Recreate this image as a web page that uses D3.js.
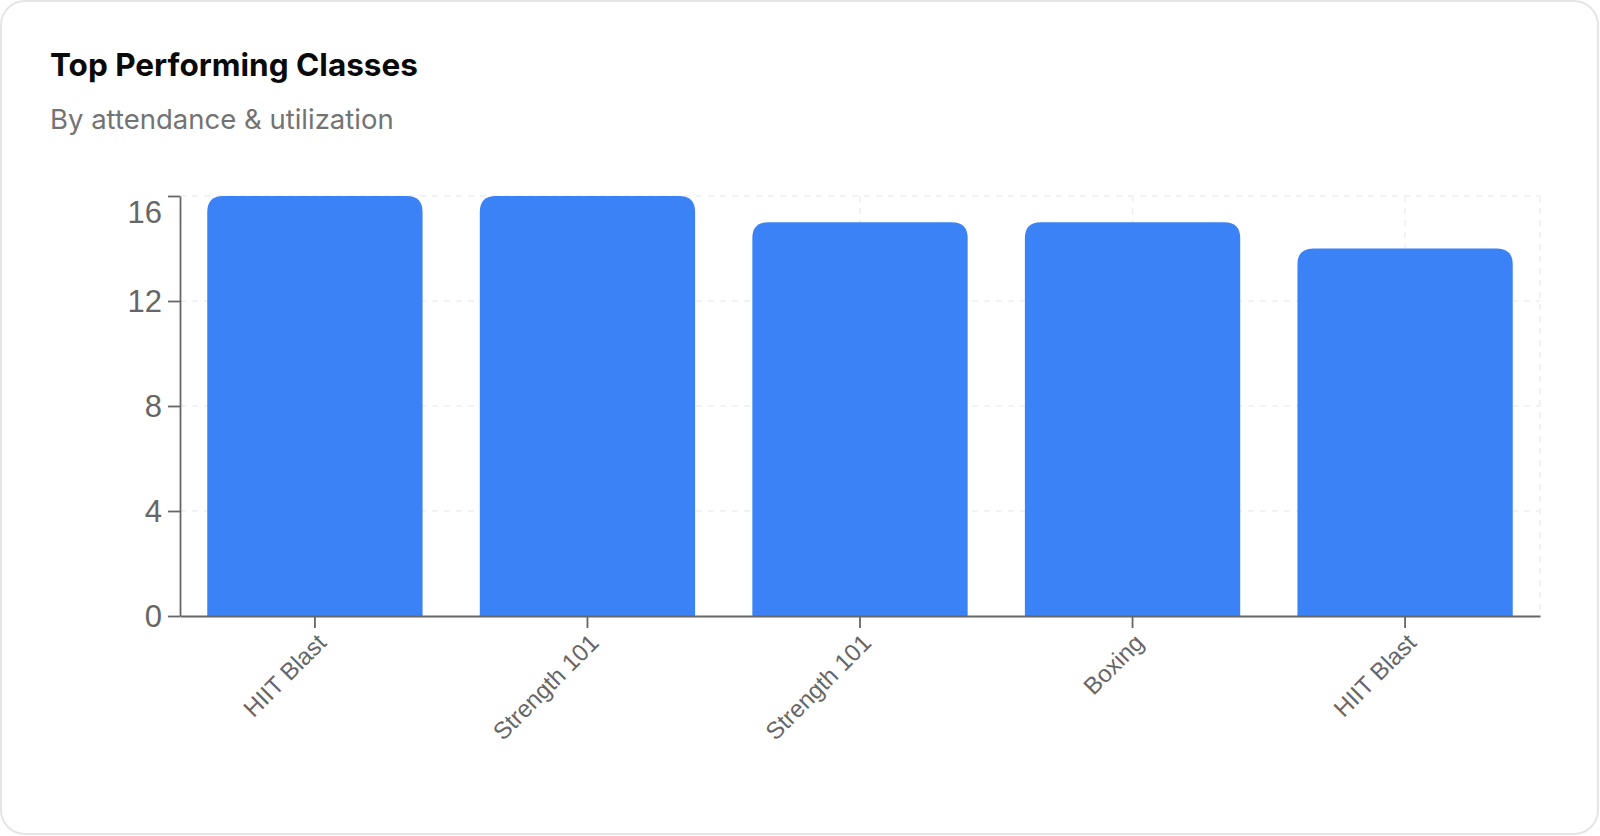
<!DOCTYPE html>
<html>
<head>
<meta charset="utf-8">
<script src="https://cdn.jsdelivr.net/npm/d3@7"></script>
<style>
  html, body { margin: 0; padding: 0; background: #fff; }
  svg { display: block; }
</style>
</head>
<body>
<div id="chart"></div>
<script>
// chart data
var classes = ["HIIT Blast", "Strength 101", "Strength 101", "Boxing", "HIIT Blast"];
var attendance = [16, 16, 15, 15, 14];
var yTicks = [0, 4, 8, 12, 16];

var W = 1600, H = 836;
var margin = {top: 196, right: 60, bottom: 220, left: 180},
    width = W - margin.left - margin.right,
    height = H - margin.top - margin.bottom;

var svg = d3.select("#chart")
  .append("svg")
    .attr("width", W)
    .attr("height", H);

// card
svg.append("rect")
  .attr("x", 1).attr("y", 1)
  .attr("width", W - 3).attr("height", H - 3)
  .attr("rx", 24)
  .attr("fill", "#fff")
  .attr("stroke", "#e5e5e5")
  .attr("stroke-width", 2);

svg.append("text")
  .attr("x", 50).attr("y", 76)
  .style("font-family", "Inter, 'Noto Sans', sans-serif")
  .style("font-weight", 700)
  .style("font-size", "31.5px")
  .style("fill", "#0a0a0a")
  .text("Top Performing Classes");

svg.append("text")
  .attr("x", 50).attr("y", 129)
  .style("font-family", "Inter, 'Noto Sans', sans-serif")
  .style("font-size", "27.5px")
  .style("fill", "#737373")
  .text("By attendance & utilization");

var g = svg.append("g")
  .attr("transform", "translate(" + margin.left + "," + margin.top + ")");

var idx = d3.range(classes.length);

var x = d3.scaleBand()
  .domain(idx)
  .range([0, width])
  .paddingInner(0.21)
  .paddingOuter(0.1);

var y = d3.scaleLinear()
  .domain([0, d3.max(yTicks)])
  .range([height, 0]);

// grid
var grid = g.append("g")
  .attr("stroke", "#eeeeee")
  .attr("stroke-width", 1.5)
  .attr("stroke-dasharray", "6 6");

grid.selectAll("line.h")
  .data(yTicks.filter(function (d) { return d > 0; }))
  .enter().append("line")
    .attr("x1", 0).attr("x2", width)
    .attr("y1", function (d) { return y(d); })
    .attr("y2", function (d) { return y(d); });

grid.selectAll("line.v")
  .data(idx.map(function (i) { return x(i) + x.bandwidth() / 2; }).concat([width]))
  .enter().append("line")
    .attr("x1", function (d) { return d; })
    .attr("x2", function (d) { return d; })
    .attr("y1", 0).attr("y2", height);

// bars with rounded top corners
var r = 16;
function barPath(i) {
  var x0 = x(i), x1 = x(i) + x.bandwidth(), y0 = y(attendance[i]), yb = y(0);
  return "M" + x0 + "," + yb +
    "V" + (y0 + r) +
    "Q" + x0 + "," + y0 + " " + (x0 + r) + "," + y0 +
    "H" + (x1 - r) +
    "Q" + x1 + "," + y0 + " " + x1 + "," + (y0 + r) +
    "V" + yb + "Z";
}

g.append("g")
  .selectAll("path")
  .data(idx)
  .enter()
  .append("path")
    .attr("d", barPath)
    .attr("fill", "#3b82f6");

// axes
var yAxis = g.append("g")
  .call(d3.axisLeft(y).tickValues(yTicks).tickSize(12).tickSizeOuter(0).tickPadding(6));

yAxis.selectAll("text")
  .attr("dy", function (d) { return d === d3.max(yTicks) ? "0.85em" : "0.35em"; });

var xAxis = g.append("g")
  .attr("transform", "translate(0," + height + ")")
  .call(d3.axisBottom(x).tickSize(12).tickSizeOuter(0).tickFormat(function (i) { return classes[i]; }));

xAxis.selectAll("text")
  .attr("text-anchor", "end")
  .attr("transform", "rotate(-45)")
  .attr("x", 0)
  .attr("y", 18)
  .attr("dx", -11)
  .attr("dy", 11)
  .style("font-size", "24px");

[xAxis, yAxis].forEach(function (a) {
  a.select(".domain").attr("stroke", "#666").attr("stroke-width", 1.8);
  a.selectAll(".tick line").attr("stroke", "#666").attr("stroke-width", 1.8);
  a.selectAll("text")
    .style("fill", "#666")
    .style("font-family", "'Liberation Sans', Arial, sans-serif");
});

yAxis.selectAll("text").style("font-size", "31px");
</script>
</body>
</html>
